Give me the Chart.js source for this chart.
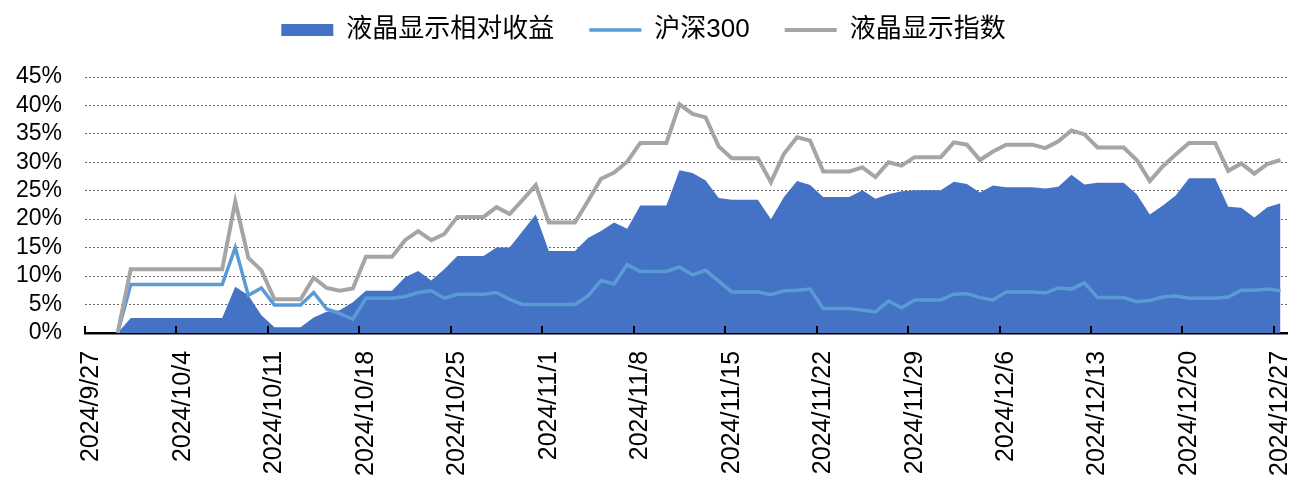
<!DOCTYPE html>
<html>
<head>
<meta charset="utf-8">
<script src="https://cdn.jsdelivr.net/npm/chart.js@4.4.1/dist/chart.umd.min.js"></script>
<style>
    body { margin: 0; background: #fff; }
    #wrap { width: 1299px; height: 484px; }
</style>
</head>
<body>
<div id="wrap"><canvas id="lcdChart"></canvas></div>
<script>
// daily axis from 2024/9/27 to 2024/12/27, weekends/holidays carry the last close
const dates = [];
for (let d = new Date(2024, 8, 27); d <= new Date(2024, 11, 27); d.setDate(d.getDate() + 1)) {
    dates.push(d.getFullYear() + '/' + (d.getMonth() + 1) + '/' + d.getDate());
}

const relReturn = [null, null, 0, 2.6, 2.6, 2.6, 2.6, 2.6, 2.6, 2.6, 2.6, 8.1, 6.6, 3.1, 1.0, 1.0, 1.0, 2.7, 3.7, 4.0, 5.4,
    7.4, 7.4, 7.4, 9.8, 10.9, 9.2, 11.2, 13.5, 13.5, 13.5, 15.0, 15.0, 17.9, 20.8, 14.4, 14.4, 14.4, 16.7, 17.9, 19.4, 18.3,
    22.4, 22.4, 22.4, 28.6, 28.1, 26.8, 23.7, 23.4, 23.4, 23.4, 20.0, 23.9, 26.7, 26.0, 23.9, 23.9, 23.9, 25.1, 23.6, 24.4, 24.9,
    25.1, 25.1, 25.1, 26.6, 26.2, 24.7, 25.9, 25.6, 25.6, 25.6, 25.4, 25.7, 27.8, 26.1, 26.4, 26.4, 26.4, 24.4, 20.8, 22.4, 24.2,
    27.2, 27.2, 27.2, 22.2, 22.0, 20.3, 22.1, 22.8];

const hs300 = [null, null, 0, 8.5, 8.5, 8.5, 8.5, 8.5, 8.5, 8.5, 8.5, 15.0, 6.6, 7.9, 4.9, 4.9, 4.9, 7.1, 4.2, 3.4, 2.4,
    6.1, 6.1, 6.1, 6.4, 7.1, 7.4, 6.1, 6.8, 6.8, 6.8, 7.1, 5.9, 5.0, 5.0, 5.0, 5.0, 5.0, 6.5, 9.2, 8.6, 12.0,
    10.8, 10.8, 10.8, 11.6, 10.2, 11.0, 9.1, 7.2, 7.2, 7.2, 6.7, 7.4, 7.5, 7.7, 4.3, 4.3, 4.3, 4.0, 3.7, 5.6, 4.4,
    5.8, 5.8, 5.8, 6.8, 6.9, 6.2, 5.8, 7.2, 7.2, 7.2, 7.0, 7.9, 7.7, 8.8, 6.2, 6.2, 6.2, 5.5, 5.7, 6.3, 6.5,
    6.1, 6.1, 6.1, 6.3, 7.5, 7.5, 7.7, 7.4];

const lcdIndex = [null, null, 0, 11.2, 11.2, 11.2, 11.2, 11.2, 11.2, 11.2, 11.2, 23.1, 13.2, 11.0, 5.9, 5.9, 5.9, 9.7, 7.9, 7.4, 7.8,
    13.4, 13.4, 13.4, 16.3, 17.9, 16.3, 17.4, 20.4, 20.4, 20.4, 22.1, 20.9, 23.4, 26.0, 19.4, 19.4, 19.4, 23.2, 27.1, 28.2, 30.1,
    33.4, 33.4, 33.4, 40.2, 38.5, 37.9, 32.8, 30.7, 30.7, 30.7, 26.5, 31.5, 34.4, 33.8, 28.4, 28.4, 28.4, 29.1, 27.4, 30.0, 29.4,
    30.9, 30.9, 30.9, 33.5, 33.1, 30.4, 31.9, 33.1, 33.1, 33.1, 32.5, 33.7, 35.6, 34.9, 32.6, 32.6, 32.6, 30.4, 26.7, 29.3, 31.4,
    33.4, 33.4, 33.4, 28.5, 29.8, 28.0, 29.7, 30.4];

const yTicks = [0, 5, 10, 15, 20, 25, 30, 35, 40, 45];

const fontFamily = "'Liberation Sans', Arial, 'Noto Sans CJK SC', sans-serif";

// small inward tick marks every 7 days, like the excel date axis
const insideTicks = {
    id: 'insideTicks',
    afterDraw(chart) {
        const xs = chart.scales.x;
        const ctx = chart.ctx;
        const half = (xs.getPixelForValue(1) - xs.getPixelForValue(0)) / 2;
        const bottom = chart.chartArea.bottom;
        ctx.save();
        ctx.strokeStyle = '#000';
        ctx.lineWidth = 2;
        dates.forEach((d, i) => {
            if (i % 7 !== 0) return;
            const px = Math.round(xs.getPixelForValue(i) - half);
            ctx.beginPath();
            ctx.moveTo(px, bottom);
            ctx.lineTo(px, bottom - 7);
            ctx.stroke();
        });
        ctx.restore();
    }
};

const ctx = document.getElementById('lcdChart').getContext('2d');

const lcdChart = new Chart(ctx, {
    type: 'line',
    data: {
        labels: dates,
        datasets: [{
            label: '液晶显示相对收益',
            data: relReturn,
            backgroundColor: '#4472C4',
            borderColor: '#4472C4',
            borderWidth: 0,
            fill: 'origin',
            pointRadius: 0,
            pointStyle: 'rect',
            order: 3
        }, {
            label: '沪深300',
            data: hs300,
            borderColor: '#5B9BD5',
            backgroundColor: '#5B9BD5',
            borderWidth: 3.5,
            fill: false,
            pointRadius: 0,
            pointStyle: 'line',
            order: 2
        }, {
            label: '液晶显示指数',
            data: lcdIndex,
            borderColor: '#A5A5A5',
            backgroundColor: '#A5A5A5',
            borderWidth: 4,
            fill: false,
            pointRadius: 0,
            pointStyle: 'line',
            order: 1
        }]
    },
    options: {
        responsive: true,
        maintainAspectRatio: false,
        animation: false,
        layout: {
            padding: { top: -18, right: 12, bottom: -2, left: 0 }
        },
        elements: {
            line: { tension: 0 }
        },
        plugins: {
            legend: {
                position: 'top',
                labels: {
                    usePointStyle: true,
                    pointStyleWidth: 52,
                    boxHeight: 12,
                    padding: 35,
                    color: '#000',
                    font: { family: fontFamily, size: 26 },
                    sort: (a, b) => a.datasetIndex - b.datasetIndex
                }
            },
            // empty spacer between legend and plot
            subtitle: {
                display: true,
                text: '',
                weight: 500,
                font: { size: 10 },
                padding: { top: 6, bottom: 6 }
            },
            tooltip: { enabled: false }
        },
        scales: {
            x: {
                type: 'category',
                offset: true,
                z: 1,
                afterFit: (scale) => { scale.paddingLeft = 0; scale.paddingRight = 0; },
                grid: { display: false, offset: true },
                border: { display: true, color: '#000', width: 2.5 },
                ticks: {
                    autoSkip: false,
                    minRotation: 90,
                    maxRotation: 90,
                    padding: 10,
                    color: '#000',
                    font: { family: fontFamily, size: 25 },
                    callback: function (value, index) {
                        return index % 7 === 0 ? dates[index] : '';
                    }
                }
            },
            y: {
                min: 0,
                max: 45,
                afterFit: (scale) => { scale.width = 85; },
                afterBuildTicks: (scale) => { scale.ticks = yTicks.map(v => ({ value: v })); },
                grid: {
                    color: '#666',
                    lineWidth: 1,
                    drawTicks: false
                },
                border: { display: false, dash: [2, 2] },
                ticks: {
                    autoSkip: false,
                    padding: 23,
                    color: '#000',
                    font: { family: fontFamily, size: 23 },
                    callback: (value) => value + '%'
                }
            }
        }
    },
    plugins: [insideTicks]
});
</script>
</body>
</html>
